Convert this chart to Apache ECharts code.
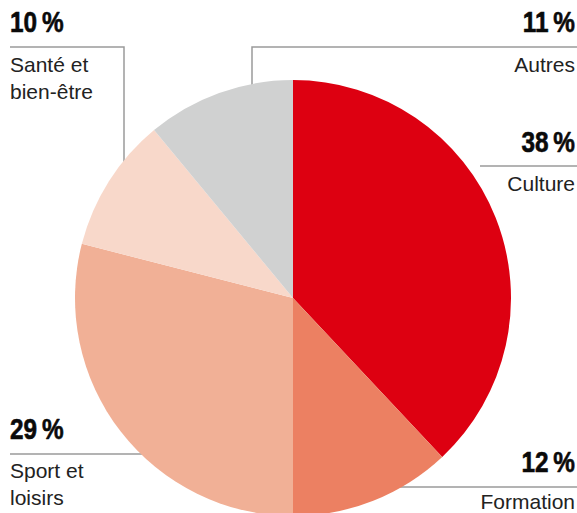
<!DOCTYPE html>
<html><head><meta charset="utf-8">
<script src="https://cdn.jsdelivr.net/npm/echarts@6/dist/echarts.min.js"></script>
<style>html,body{margin:0;padding:0;background:#fff}#c{width:577px;height:513px}</style>
</head><body><div id="c"></div>
<script>
const categories = ['Culture', 'Formation', 'Sport et\nloisirs', 'Santé et\nbien-être', 'Autres'];
const values = [38, 12, 29, 10, 11];
const colors = ['#dd0011', '#ec8062', '#f1b096', '#f8d8ca', '#d0d1d1'];

// label placement (layout only)
const layout = [
  { align: 'right', x: 575, pctY: 135, textY: 170, line: [[480, 166], [577, 166]] },
  { align: 'right', x: 575, pctY: 455, textY: 488, line: [[380, 487], [577, 487]] },
  { align: 'left', x: 10, pctY: 422, textY: 457, line: [[10, 454], [160, 454]] },
  { align: 'left', x: 10, pctY: 15, textY: 51, line: [[10, 47], [124, 47], [124, 170]] },
  { align: 'right', x: 575, pctY: 15, textY: 51, line: [[577, 47], [252, 47], [252, 100]] }
];

const graphics = [];
categories.forEach((c, i) => {
  const L = layout[i];
  graphics.push({
    type: 'polyline', z: -10, silent: true,
    shape: { points: L.line },
    style: { stroke: '#9a9a9a', lineWidth: 1.5, fill: null }
  });
  graphics.push({
    type: 'text', z: 10, x: L.x, y: L.pctY - 7, scaleX: 0.84,
    style: {
      text: values[i] + '\u2009%', align: L.align, verticalAlign: 'top',
      font: 'bold 29px "Liberation Sans", Arial, sans-serif', fill: '#0a0a0a',
      stroke: '#0a0a0a', lineWidth: 0.6
    }
  });
  graphics.push({
    type: 'text', z: 10, x: L.x, y: L.textY,
    style: {
      text: c, align: L.align, verticalAlign: 'top', lineHeight: 27,
      font: '21px "Liberation Sans", Arial, sans-serif', fill: '#222'
    }
  });
});

const chart = echarts.init(document.getElementById('c'), null, { renderer: 'svg' });
chart.setOption({
  animation: false,
  graphic: graphics,
  series: [{
    type: 'pie', z: 2,
    center: [293, 298], radius: 218,
    startAngle: 90, clockwise: true,
    label: { show: false }, labelLine: { show: false },
    emphasis: { disabled: true },
    itemStyle: { borderWidth: 0 },
    data: categories.map((c, i) => ({ name: c, value: values[i], itemStyle: { color: colors[i] } }))
  }]
});
</script></body></html>
